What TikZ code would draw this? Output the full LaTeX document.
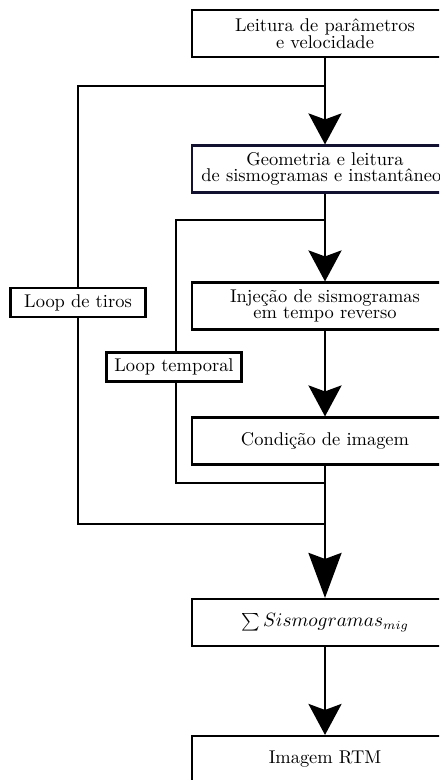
\documentclass[tikz,border=0pt]{standalone}
\usepackage{xcolor}
\usepackage{tikz}
\usetikzlibrary{arrows.meta, positioning}
\definecolor{framecolor}{RGB}{0,0,0}
\definecolor{geomcolor}{RGB}{18,18,48}

\begin{document}
\begin{tikzpicture}[
    font=\fontsize{10.5}{9.5}\selectfont,
    process/.style={draw=framecolor, line width=1.2pt, fill=white, minimum width=5.32cm, minimum height=0.94cm, align=center, inner sep=2pt},
    looplabel/.style={draw=framecolor, line width=1.2pt, fill=white, minimum width=2.7cm, minimum height=0.58cm, inner sep=2pt},
    arrow/.style={-{Stealth[length=0.62cm, width=0.66cm, inset=0.12cm]}, line width=1.6pt},
    longarrow/.style={-{Stealth[length=0.9cm, width=0.66cm, inset=0.12cm]}, line width=1.6pt},
    line/.style={line width=1.6pt}
]
    \useasboundingbox (0,0) rectangle (8.78,-15.6);
    \clip (0,0) rectangle (8.78,-15.6);

    % Process nodes
    \node[process] (leitura) at (6.5,-0.67) {Leitura de par\^ametros\\e velocidade};
    \node[process, draw=geomcolor] (geom) at (6.5,-3.38) {Geometria e leitura\\de sismogramas e instant\^aneos};
    \node[process] (injec) at (6.5,-6.12) {Inje\c{c}\~ao de sismogramas\\em tempo reverso};
    \node[process] (cond) at (6.5,-8.82) {Condi\c{c}\~ao de imagem};
    \node[process] (soma) at (6.5,-12.45) {$\sum Sismogramas_{mig}$};
    \node[process] (rtm) at (6.5,-15.19) {Imagem RTM};

    % Loop labels
    \node[looplabel] (tiros) at (1.56,-6.05) {Loop de tiros};
    \node[looplabel] (temporal) at (3.48,-7.34) {Loop temporal};

    % Junctions
    \coordinate (j1) at (6.5,-1.72);
    \coordinate (j2) at (6.5,-4.4);
    \coordinate (j3) at (6.5,-9.66);
    \coordinate (j4) at (6.5,-10.48);

    % Loops
    \draw[line] (j1) -| (tiros);
    \draw[line] (tiros) |- (j4);
    \draw[line] (j2) -| ([xshift=0.04cm]temporal.north);
    \draw[line] ([xshift=0.04cm]temporal.south) |- (j3);

    % Arrows
    \draw[arrow] (leitura) -- (geom);
    \draw[arrow] (geom) -- (injec);
    \draw[arrow] (injec) -- (cond);
    \draw[longarrow] (cond) -- (soma);
    \draw[arrow] (soma) -- (rtm);
\end{tikzpicture}
\end{document}
